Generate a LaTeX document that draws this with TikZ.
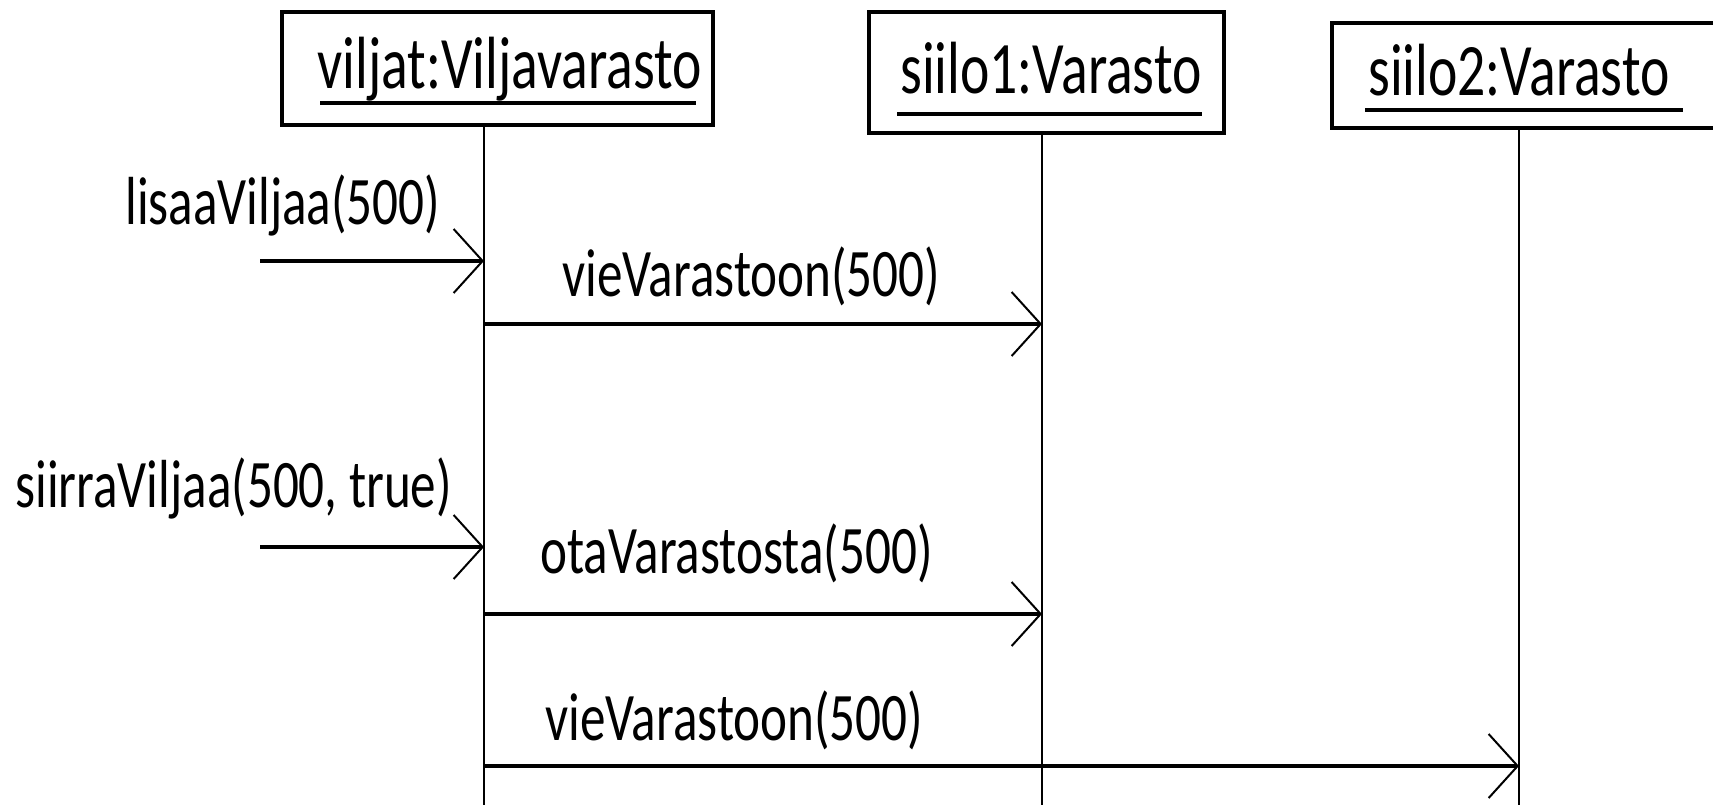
\documentclass[tikz,border=0pt]{standalone}
\usepackage{fontspec}
\setmainfont{Carlito}[FakeStretch=0.752]
\usetikzlibrary{arrows.meta}
\tikzset{
  objbox/.style={draw, line width=1.9pt, inner sep=0pt, fill=white},
  objtext/.style={inner sep=0pt, anchor=base west, font=\fontsize{37pt}{44pt}\selectfont},
  msgtext/.style={inner sep=0pt, anchor=base west, font=\fontsize{34pt}{40pt}\selectfont},
  uline/.style={line width=1.7pt},
  lifeline/.style={line width=1.4pt},
  msg/.style={line width=1.8pt, -{Straight Barb[length=14.5pt, width=32pt, line width=1pt]}}
}
\begin{document}
\begin{tikzpicture}[x=0.5pt, y=-0.5pt]
\clip (0,0) rectangle (1713,804);
\fill[white] (0,0) rectangle (1713,804);

% lifelines
\coordinate (l1top) at (484,125);  \coordinate (l1bot) at (484,820);
\coordinate (l2top) at (1042,133); \coordinate (l2bot) at (1042,820);
\coordinate (l3top) at (1519,128); \coordinate (l3bot) at (1519,820);
\draw[lifeline] (l1top) -- (l1bot);
\draw[lifeline] (l2top) -- (l2bot);
\draw[lifeline] (l3top) -- (l3bot);

% object boxes
\node[objbox, minimum width=215.5pt, minimum height=56.5pt] (box1) at (497.5,68.5) {};
\node[objbox, minimum width=177.5pt, minimum height=60.5pt] (box2) at (1046.5,72.5) {};
\node[objbox, minimum width=234pt, minimum height=52.5pt] (box3) at (1566,75.5) {};

\node[objtext] (t1) at (317,88) {viljat:Viljavarasto};
\node[objtext] (t2) at (900,93) {siilo1:Varasto};
\node[objtext] (t3) at (1368,95) {siilo2:Varasto};
\coordinate (u1a) at (320,103);  \coordinate (u1b) at (696,103);
\coordinate (u2a) at (897,114);  \coordinate (u2b) at (1202,114);
\coordinate (u3a) at (1365,110); \coordinate (u3b) at (1683,110);
\draw[uline] (u1a) -- (u1b);
\draw[uline] (u2a) -- (u2b);
\draw[uline] (u3a) -- (u3b);

% messages
\coordinate (m1s) at (260,261);  \coordinate (m1e) at (484,261);
\coordinate (m2s) at (484,324);  \coordinate (m2e) at (1042,324);
\coordinate (m3s) at (260,547);  \coordinate (m3e) at (484,547);
\coordinate (m4s) at (484,614);  \coordinate (m4e) at (1042,614);
\coordinate (m5s) at (484,766);  \coordinate (m5e) at (1519,766);
\draw[msg] (m1s) -- (m1e);
\draw[msg] (m2s) -- (m2e);
\draw[msg] (m3s) -- (m3e);
\draw[msg] (m4s) -- (m4e);
\draw[msg] (m5s) -- (m5e);

\node[msgtext] (lm1) at (125,224) {lisaaViljaa(500)};
\node[msgtext] (lm2) at (562,296) {vieVarastoon(500)};
\node[msgtext] (lm3) at (15,507) {siirraViljaa(500, true)};
\node[msgtext] (lm4) at (540,573) {otaVarastosta(500)};
\node[msgtext] (lm5) at (545,740) {vieVarastoon(500)};
\end{tikzpicture}
\end{document}
